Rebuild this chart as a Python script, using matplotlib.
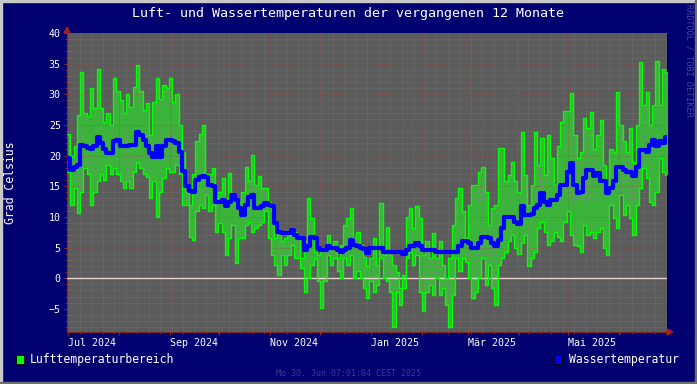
import datetime as dt
import numpy as np
import matplotlib
matplotlib.use("Agg")
import matplotlib.pyplot as plt
import matplotlib.dates as mdates
from matplotlib.patches import Rectangle, Polygon
from matplotlib.ticker import FuncFormatter, MultipleLocator

plt.rcParams['font.family'] = ['DejaVu Sans Mono']

# values every 2 days, starting 30.06.2024 07:01
step_days = 2
luft_max = [
    23.5, 20, 21.5, 26.6, 33.7, 27, 26.5, 31, 27.7, 34.2,
    27.7, 25.5, 27, 25, 32.6, 30.5, 29, 27, 30, 28,
    31.2, 34.8, 30.5, 27.5, 28.5, 23.4, 28.8, 32.6, 29.3, 31.5,
    31, 32.6, 28.8, 30, 25, 20.6, 14, 12, 17, 22.3,
    23.5, 25, 17, 17, 17.9, 13, 14, 16.3, 13, 17.1,
    13.6, 12, 12.5, 14, 18.2, 15.8, 20.1, 15.2, 16.6, 14.7,
    14.7, 12.5, 10.9, 6.5, 7.6, 6, 6.5, 7, 8.2, 7.6,
    6.5, 3.3, 6, 13, 9.8, 4.3, 3.8, 4.9, 4.9, 7,
    5.4, 6, 3.3, 5.4, 8.7, 9.8, 11.4, 6.5, 7.6, 5.4,
    3.5, 2, 3.3, 6.5, 2.2, 12.2, 3.8, 8.4, 3.8, 2.2,
    1, -1.6, 0.5, 10, 11.4, 8.2, 11.7, 9.8, 3.8, 6,
    3.3, 7.3, 3.3, 6, 2.2, 0, 3.3, 8.7, 13, 14.7,
    10.9, 6.5, 12, 15.2, 15.2, 17.4, 18.2, 14, 8.7, 11.4,
    12, 21.2, 21.2, 15.8, 16.8, 19, 15.8, 14, 23.9, 16.8,
    12, 15.2, 23.9, 18.5, 22.8, 16.8, 23.4, 19.6, 15.2, 21.5,
    25.5, 27.2, 27.2, 30.2, 23.4, 19.6, 20.6, 26.1, 24.5, 27.1,
    21, 23.4, 25.8, 18.5, 15.2, 21, 20.6, 30.4, 25, 22.3,
    20.6, 24.5, 19, 25, 35.3, 28.3, 30.4, 25, 28.3, 35.4,
    28.3, 34.2, 33.7,
]
luft_min = [
    17.4, 12, 14.7, 10.6, 14, 18, 17, 12, 14, 15.8,
    17, 16, 18.5, 17, 18, 17, 15.8, 14.7, 15.8, 14.7,
    17.4, 19, 18, 17, 16.5, 13, 15.8, 10, 14, 16.3,
    18, 17.4, 17.4, 18.5, 17, 12, 12, 6.8, 6.3, 10.9,
    12, 11.5, 13.6, 11, 12, 7.6, 9, 7.6, 3.8, 6.5,
    8.7, 2.4, 6.5, 6.5, 8.7, 9.2, 7.6, 8.2, 8.7, 9.2,
    10.9, 6.5, 3.8, 2.2, 0.5, 3.8, 2.2, 3.8, 5.4, 3.3,
    3.3, 1.6, -2.2, 0, 2.2, 3.3, -0.5, -4.9, -0.5, 3.8,
    2.2, 3.3, 1.1, 0, 3.3, 2.2, 3.8, 0, 1.1, 0,
    -1.6, -3.3, -0.5, -2.2, -1.1, 3.3, 0, -0.5, -2.2, -8,
    -2.2, -4.3, -1.6, 3.3, 4.3, 2.2, 3.8, -2.2, -5.4, -2.2,
    -1.1, -2.7, 0, -2.7, -1.6, -4.3, -8, -2.7, 3.3, 1.1,
    3.3, 2.7, 0, -3.3, -2.2, 0, 3.3, -1.1, 2.2, -1.6,
    -4.3, 2.2, 3.3, 4.3, 6, 7, 5, 4, 5.7, 7,
    2, 3.3, 4.3, 8.2, 9.2, 7.6, 5.4, 6, 7.6, 6.8,
    6, 9.2, 10.9, 7, 5.4, 5.2, 4.3, 8.7, 7, 7.6,
    6.5, 7.6, 8.2, 5, 3.8, 12, 9.8, 8.2, 13.6, 10.3,
    12, 9.8, 7, 12, 14.7, 18, 16.3, 12.5, 12, 14,
    19.6, 17.4, 16.8,
]
wasser = [
    19.6, 17.7, 18.2, 18.5, 21.7, 21.5, 21.2, 21.0, 21.5, 23,
    22, 21, 20.4, 20.4, 22.3, 22.5, 21.5, 21.5, 21.5, 21.7,
    21.7, 23.9, 23.3, 22.5, 21.5, 20.4, 19.8, 21.5, 19.8, 21.5,
    22.5, 22.5, 22.3, 22.0, 20.6, 17.5, 15, 14.2, 14, 16,
    16.5, 16.6, 16.5, 15.2, 15, 12.5, 12.5, 12.7, 11.7, 12.5,
    13.6, 12.7, 11.5, 10.3, 12, 13.3, 13.6, 11.5, 11.5, 11.7,
    12.2, 12, 11.7, 9, 7.6, 7.3, 7.3, 7.3, 7.8, 7,
    6.5, 6.5, 4.6, 5.2, 6.8, 6.5, 5, 4.6, 4.6, 5.2,
    4.9, 4.9, 4.6, 4.3, 4.6, 4.9, 6.3, 5.4, 5.2, 4.9,
    4.7, 4.1, 5, 5, 4.9, 4.9, 4.3, 4.3, 4.3, 4.2,
    4.2, 4.2, 4.0, 4.6, 5.2, 5.2, 5.7, 5.2, 4.6, 4.6,
    4.6, 4.6, 4.3, 4.3, 4.2, 4.2, 4.2, 4.2, 4.2, 5.2,
    6, 6, 5.7, 4.9, 4.9, 5.7, 6.8, 6.8, 6.6, 5.7,
    5.2, 6.3, 8.2, 9.9, 9.9, 9.9, 9.2, 8.8, 11.7, 10.3,
    10.3, 10.5, 11.5, 12, 13.9, 12.5, 12, 12.8, 12.8, 13.6,
    15.2, 15.2, 17.4, 18.8, 15.2, 13.9, 14, 16.3, 17.7, 17.7,
    16.6, 17.2, 15.8, 15.8, 13.9, 14.7, 15.8, 18.2, 18.2, 17.7,
    17.4, 17.4, 16.6, 18.2, 20.9, 20.9, 20.6, 21.7, 22.5, 21.5,
    22.3, 22, 23,
]

month_names = {1: "Jan", 3: "Mär", 5: "Mai", 7: "Jul", 9: "Sep", 11: "Nov"}
title = "Luft- und Wassertemperaturen der vergangenen 12 Monate"
footer = "Mo 30. Jun 07:01:04 CEST 2025"

start = dt.datetime(2024, 6, 30, 7, 1, 4)
end = start + dt.timedelta(days=365)

W, H = 697, 384
bg = '#000070'
fig = plt.figure(figsize=(W / 100, H / 100), dpi=100, facecolor=bg)
ax = fig.add_axes([67 / W, (H - 332) / H, 600 / W, 299 / H])
ax.set_facecolor('#5C5C5C')

x = [start + dt.timedelta(days=step_days * i) for i in range(len(wasser) + 1)]
mx = np.array(luft_max + [luft_max[-1]])
mn = np.array(luft_min + [luft_min[-1]])
wt = np.array(wasser + [wasser[-1]])

ax.fill_between(x, mn, mx, step='post', color='#3CB43C', lw=0, zorder=2)
ax.step(x, mx, where='post', color='#00FF00', lw=1.0, zorder=3)
ax.step(x, mn, where='post', color='#00FF00', lw=1.0, zorder=3)
ax.step(x, wt, where='post', color='#0000FF', lw=3.0, zorder=4)
ax.axhline(0, color='#E8D2D2', lw=1.0, zorder=2.7)

ax.set_xlim(start, end)
ax.set_ylim(-8.78, 40)

ax.set_axisbelow(False)
ax.yaxis.set_major_locator(MultipleLocator(5))
ax.yaxis.set_minor_locator(MultipleLocator(1))
ax.xaxis.set_major_locator(mdates.MonthLocator())
ax.xaxis.set_minor_locator(mdates.WeekdayLocator(byweekday=mdates.MO))


def fmt_month(v, pos):
    d = mdates.num2date(v)
    if d.month in month_names:
        return f"{month_names[d.month]} {d.year}"
    return ""


ax.xaxis.set_major_formatter(FuncFormatter(fmt_month))
ax.grid(which='minor', color='#7C7C7C', linestyle=(0, (1, 2)), lw=0.5)
ax.grid(which='major', color='#8E4A4A', linestyle=(0, (1, 2)), lw=0.5)

ax.tick_params(which='both', colors='#8B2A2A', direction='out')
ax.tick_params(which='major', length=2.5, width=0.8, labelcolor='white', labelsize=7.2, pad=2)
ax.tick_params(which='minor', length=1.5, width=0.6)
for lbl in ax.get_xticklabels():
    lbl.set_ha('left')

for s in ['top', 'right']:
    ax.spines[s].set_visible(False)
for s in ['left', 'bottom']:
    ax.spines[s].set_color('#7A2A2A')
    ax.spines[s].set_linewidth(0.8)

# axis arrows
arrow_c = '#A02020'
fig.patches.append(Polygon([[64 / W, 1 - 33 / H], [70 / W, 1 - 33 / H], [67 / W, 1 - 27 / H]],
                           closed=True, transform=fig.transFigure, color=arrow_c))
fig.patches.append(Polygon([[667 / W, 1 - 329 / H], [667 / W, 1 - 335 / H], [673 / W, 1 - 332 / H]],
                           closed=True, transform=fig.transFigure, color=arrow_c))

# frame
fig.patches.append(Rectangle((0, 0), 2 / W, 1, transform=fig.transFigure, color='#C8C8C8'))
fig.patches.append(Rectangle((0, 1 - 2 / H), 1, 2 / H, transform=fig.transFigure, color='#C8C8C8'))
fig.patches.append(Rectangle((1 - 2 / W, 0), 2 / W, 1, transform=fig.transFigure, color='#6E6E6E'))
fig.patches.append(Rectangle((0, 0), 1, 2 / H, transform=fig.transFigure, color='#6E6E6E'))

fig.text(348.5 / W, 1 - 14 / H, title, ha='center', va='center', color='white', fontsize=9.6)
fig.text(10.7 / W, 1 - 183 / H, "Grad Celsius", ha='center', va='center', rotation=90,
         color='white', fontsize=8.3)

# legend
fig.patches.append(Rectangle((15.5 / W, 1 - 363.5 / H), 8 / W, 9 / H, transform=fig.transFigure,
                             facecolor='#00FF00', edgecolor='black', lw=0.6))
fig.text(30 / W, 1 - 359 / H, "Lufttemperaturbereich", ha='left', va='center', color='white', fontsize=8.3)
fig.patches.append(Rectangle((554 / W, 1 - 363.5 / H), 8 / W, 9 / H, transform=fig.transFigure,
                             facecolor='#0000FF', edgecolor='black', lw=0.6))
fig.text(569 / W, 1 - 359 / H, "Wassertemperatur", ha='left', va='center', color='white', fontsize=8.3)

fig.text(348.5 / W, 1 - 373 / H, footer, ha='center', va='center', color='#3C3C98', fontsize=6)
fig.text(689 / W, 1 - 4 / H, "RRDTOOL / TOBI OETIKER", ha='center', va='top', rotation=-90,
         color='#4848A0', fontsize=6.1)

fig.savefig('out.png', dpi=100, facecolor=bg)
